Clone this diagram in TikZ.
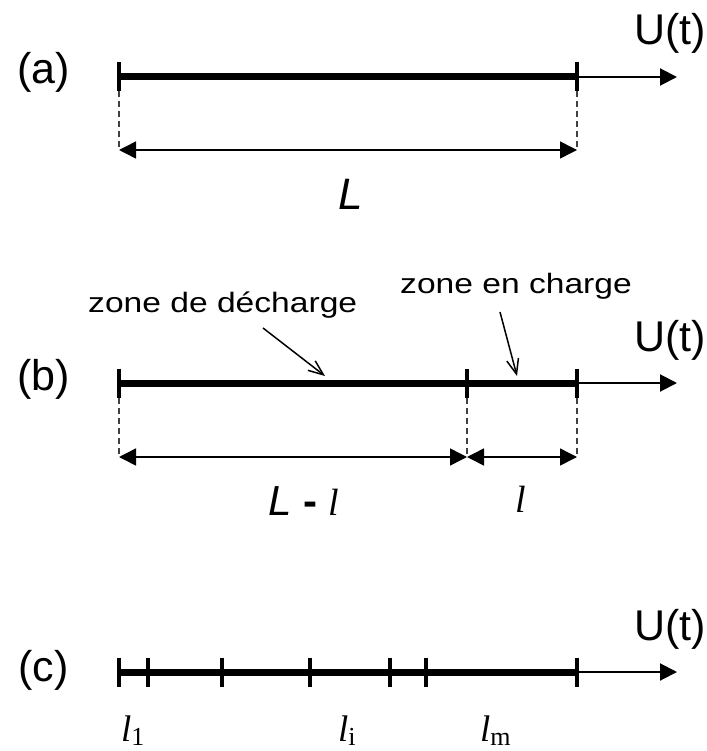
\documentclass[tikz,border=0pt]{standalone}
\usepackage{fontspec}
\setmainfont{Liberation Sans}
\newfontfamily\serif{Liberation Serif}
\usetikzlibrary{arrows.meta}
\tikzset{
  bar/.style={line width=7pt},
  tickmark/.style={line width=4.5pt},
  axisline/.style={line width=2pt,-{Triangle[length=17pt,width=17pt]}},
  dashline/.style={black!75,line width=1.5pt,dash pattern=on 6pt off 4pt},
  dimarrow/.style={line width=1.5pt,{Triangle[length=17pt,width=17pt]}-{Triangle[length=17pt,width=17pt]}},
  ptr/.style={line width=1.5pt,-{Straight Barb[length=15pt,width=12pt]}},
  biglabel/.style={anchor=base west,inner sep=0pt,font=\fontsize{43}{50}\selectfont},
  zonelabel/.style={anchor=base west,inner sep=0pt},
  mathlabel/.style={anchor=base west,inner sep=0pt,font=\fontsize{37}{42}\selectfont\serif\itshape}
}
\begin{document}
\begin{tikzpicture}[x=1pt,y=-1pt]
\useasboundingbox (0,0) rectangle (706,751);
% ---------- (a)
\node[biglabel] (la) at (17,84) {(a)};
\node[biglabel] (Ua) at (634,45) {U(t)};
\coordinate (a0) at (119,77);
\coordinate (a1) at (577,77);
\coordinate (aE) at (677,77);
\draw[bar] (a0) -- (a1);
\draw[axisline] (a1) -- (aE);
\foreach \x in {119,577}{\draw[tickmark] (\x,62.5) -- (\x,91.5);}
\coordinate (ad0) at (119,150);
\coordinate (ad1) at (577,150);
\draw[dashline] (119,91.5) -- (ad0);
\draw[dashline] (577,91.5) -- (ad1);
\draw[dimarrow] (ad0) -- (ad1);
\node[anchor=base,inner sep=0pt,font=\fontsize{44}{50}\selectfont\itshape] (LL) at (351,209) {L};
% ---------- (b)
\node[biglabel] (lb) at (17,390) {(b)};
\node[biglabel] (Ub) at (634,351) {U(t)};
\coordinate (b0) at (119,383);
\coordinate (b1) at (467,383);
\coordinate (b2) at (577,383);
\coordinate (bE) at (677,383);
\draw[bar] (b0) -- (b2);
\draw[axisline] (b2) -- (bE);
\foreach \x in {119,467,577}{\draw[tickmark] (\x,368.5) -- (\x,397.5);}
\coordinate (bd0) at (119,457);
\coordinate (bd1) at (467,457);
\coordinate (bd2) at (577,457);
\draw[dashline] (119,397.5) -- (bd0);
\draw[dashline] (467,397.5) -- (bd1);
\draw[dashline] (577,397.5) -- (bd2);
\draw[dimarrow] (bd0) -- (bd1);
\draw[dimarrow] (bd1) -- (bd2);
\node[anchor=base west,inner sep=0pt] (Lml) at (268,515)
  {\fontsize{42}{50}\selectfont\itshape L \textbf{\upshape -} {\serif\fontsize{38}{42}\selectfont l}};
\node[anchor=base,inner sep=0pt,font=\fontsize{38}{42}\selectfont\serif\itshape] (ll) at (521,512) {l};
\node[zonelabel] (zd) at (88,312) {\scalebox{1.2}[1]{\fontsize{28}{32}\selectfont zone de décharge}};
\node[zonelabel] (zc) at (400,293) {\scalebox{1.2}[1]{\fontsize{28}{32}\selectfont zone en charge}};
\coordinate (zds) at (263,328);
\coordinate (zde) at (325,376);
\coordinate (zcs) at (500,312);
\coordinate (zce) at (517,376);
\draw[ptr] (zds) -- (zde);
\draw[ptr] (zcs) -- (zce);
% ---------- (c)
\node[biglabel] (lc) at (18,681) {(c)};
\node[biglabel] (Uc) at (634,640) {U(t)};
\coordinate (c0) at (119,672);
\coordinate (c1) at (577,672);
\coordinate (cE) at (677,672);
\draw[bar] (c0) -- (c1);
\draw[axisline] (c1) -- (cE);
\foreach \x in {119,148,222,310,390,426,577}{\draw[tickmark] (\x,657.5) -- (\x,686.5);}
\node[mathlabel] (l1) at (121,741) {l\raisebox{-4pt}{\upshape\fontsize{26}{28}\selectfont 1}};
\node[mathlabel] (li) at (338,741) {l\raisebox{-4pt}{\upshape\fontsize{26}{28}\selectfont i}};
\node[mathlabel] (lm) at (480,741) {l\raisebox{-4pt}{\upshape\fontsize{26}{28}\selectfont m}};
\end{tikzpicture}
\end{document}
